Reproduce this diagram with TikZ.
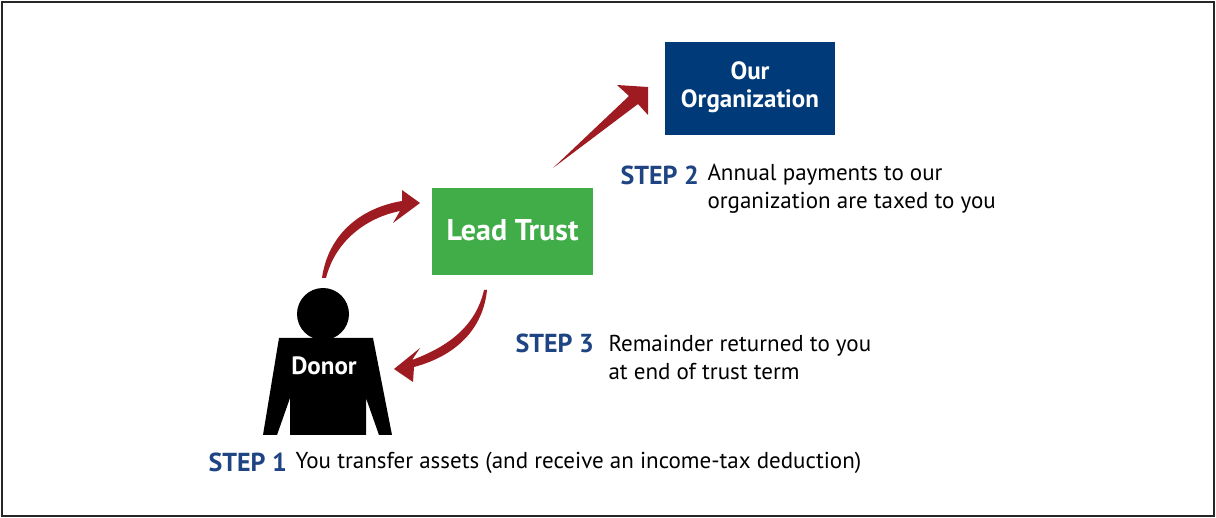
\documentclass[tikz,border=0pt]{standalone}
\usepackage{fontspec}
\setmainfont{PT Sans}
\usetikzlibrary{calc}
\definecolor{orgblue}{HTML}{003A78}
\definecolor{trustgreen}{HTML}{41AD49}
\definecolor{arrowred}{HTML}{9E1B22}
\definecolor{stepblue}{HTML}{1F4483}
\tikzset{
  box/.style={inner sep=0pt, text=white, font=\bfseries\fontsize{25}{28}\selectfont, align=center},
  steplabel/.style={anchor=west, text=stepblue, font=\bfseries\fontsize{26}{30}\selectfont},
  desc/.style={anchor=west, align=left, font=\fontsize{23}{28}\selectfont},
  bigarrow/.style={fill=arrowred, draw=none}
}
\begin{document}
\begin{tikzpicture}[x=1pt, y=-1pt]

      % Frame
      \useasboundingbox (0,0) rectangle (1216,518);
      \draw[line width=2pt, black!85] (2,2) rectangle (1214,516);

      % Boxes
      \fill[orgblue] (665,42) rectangle (835,135);
      \node[box] (org) at (750,87) {Our\\Organization};
      \fill[trustgreen] (432,188) rectangle (593,275);
      \node[box, font=\bfseries\fontsize{30}{34}\selectfont] (trust) at (512.5,230) {Lead Trust};

      % Donor figure
      \fill[black] (323,314) circle (26);
      \fill[black] (279,338) -- (373,338) -- (392,435) -- (379,435) -- (366,398)
        -- (366,435) -- (290,435) -- (290,398) -- (277,435) -- (263,435) -- cycle;
      \node[text=white, font=\bfseries\fontsize{25}{28}\selectfont] (donor) at (324,366) {Donor};

      % Arrow: donor to trust
      \fill[bigarrow] (322,278) .. controls (328,235) and (360,208) .. (402,201)
        -- (402,190) -- (420,203) -- (393,223) -- (400,211)
        .. controls (365,218) and (335,242) .. (326,278) -- cycle;
      % Arrow: trust back to donor
      \fill[bigarrow] (487,290) .. controls (483,330) and (455,356) .. (414,367)
        -- (413,382) -- (394,369) -- (420,348) -- (412,360)
        .. controls (450,346) and (476,325) .. (484,290) -- cycle;
      % Arrow: trust to organization
      \fill[bigarrow] (553,168) -- (629,96) -- (617,85) -- (648,87) -- (648,115)
        -- (638,104) -- cycle;

      % Step labels
      \node[steplabel] (s2) at (617,175) {STEP 2};
      \node[desc] (d2) at (704,189) {Annual payments to our\\organization are taxed to you};
      \node[steplabel] (s3) at (512,343) {STEP 3};
      \node[desc] (d3) at (605,357) {Remainder returned to you\\at end of trust term};
      \node[steplabel] (s1) at (205,462) {STEP 1};
      \node[desc] (d1) at (292,463) {You transfer assets (and receive an income-tax deduction)};

    \end{tikzpicture}
\end{document}
